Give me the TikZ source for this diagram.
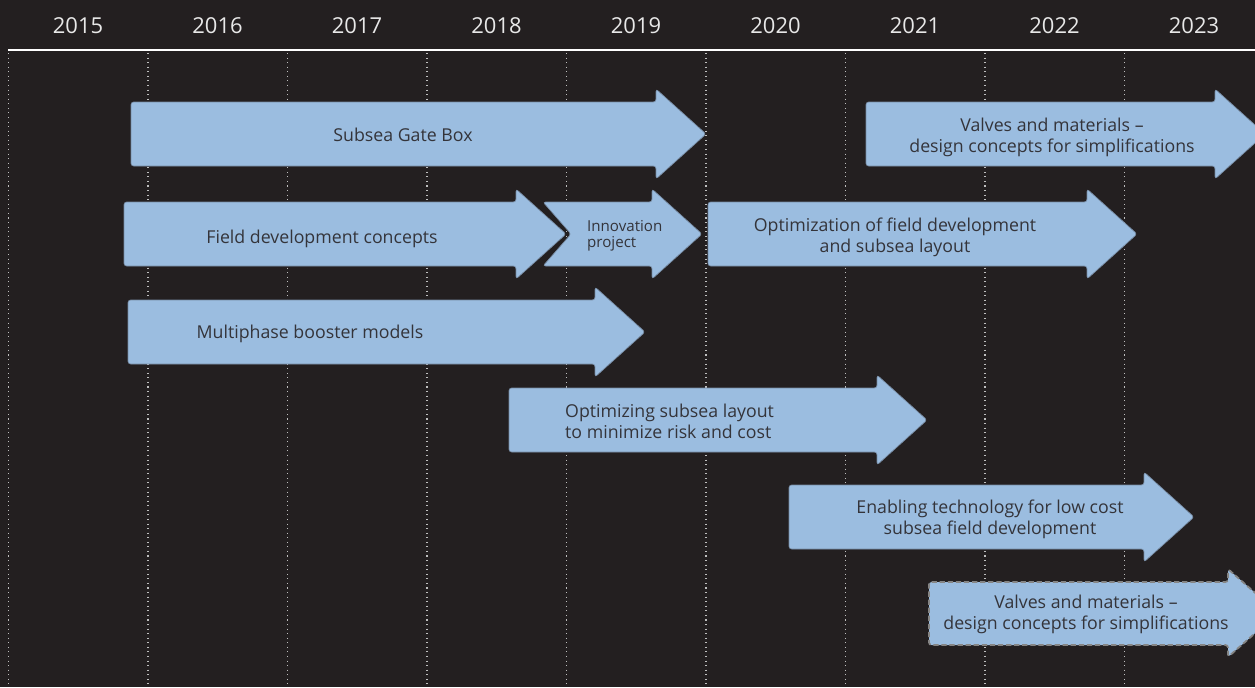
\documentclass[tikz,border=0pt]{standalone}
\usepackage{fontspec}
\setmainfont{Open Sans}

\definecolor{bgdark}{RGB}{35,31,32}
\definecolor{barblue}{RGB}{155,189,224}
\definecolor{baredge}{RGB}{118,138,162}
\definecolor{bartext}{RGB}{52,52,58}
\definecolor{yeartext}{RGB}{232,232,232}

\begin{document}
\begin{tikzpicture}[x=0.02cm,y=-0.02cm,
    bar/.style={fill=barblue,draw=baredge,line width=0.4pt,rounded corners=1.5pt},
    bartxt/.style={text=bartext,font=\fontsize{10.1}{12}\selectfont,align=center},
    year/.style={text=yeartext,font=\fontsize{12.5}{14}\selectfont}]
    \fill[bgdark] (0,0) rectangle (1255,687);
    \useasboundingbox (0,0) rectangle (1255,687);
    \clip (0,0) rectangle (1255,687);
    % years and grid
    \foreach \i in {0,...,8} {
        \pgfmathtruncatemacro{\yr}{2015+\i}
        \node[year] (y\yr) at (78+139.5*\i,26) {\yr};
        \draw[white!75!black,dotted,line width=0.6pt] (8.5+139.5*\i,53) -- (8.5+139.5*\i,687);
    }
    \draw[white,line width=1.7pt] (8,50) -- (1255,50);
    % bars: start x / tip x / centre y
    \foreach \s/\t/\c in {131/706/134, 866/1265/134, 124/566/234, 708/1137/234,
                          128/645/332, 509/927/420, 789/1194/517} {
        \draw[bar] (\s,\c-32) -- (\t-50,\c-32) -- (\t-50,\c-45) -- (\t,\c)
            -- (\t-50,\c+45) -- (\t-50,\c+32) -- (\s,\c+32) -- cycle;
    }
    % innovation project, notched tail
    \draw[bar] (543,202) -- (652,202) -- (652,189) -- (702,234) -- (652,279)
        -- (652,266) -- (543,266) -- (571,234) -- cycle;
    % planned, dashed
    \draw[bar,draw=black!48,dash pattern=on 3pt off 1.6pt,line width=1pt] (929,582) -- (1228,582) -- (1228,569)
        -- (1278,613) -- (1228,657) -- (1228,645) -- (929,645) -- cycle;
    % labels
    \node[bartxt] (gatebox) at (403,135) {Subsea Gate Box};
    \node[bartxt] (valves) at (1052,137) {Valves and materials --\\design concepts for simplifications};
    \node[bartxt] (fielddev) at (322,239) {Field development concepts};
    \node[bartxt,align=left,anchor=west,font=\fontsize{8.6}{9.3}\selectfont] (innov) at (581,236) {Innovation\\project};
    \node[bartxt] (optfield) at (895,237) {Optimization of field development\\and subsea layout};
    \node[bartxt] (booster) at (310,334) {Multiphase booster models};
    \node[bartxt,align=left,anchor=west] (optlayout) at (559,421) {Optimizing subsea layout\\to minimize risk and cost};
    \node[bartxt] (enabling) at (990,519) {Enabling technology for low cost\\subsea field development};
    \node[bartxt] (valves2) at (1086,614) {Valves and materials --\\design concepts for simplifications};
\end{tikzpicture}
\end{document}
